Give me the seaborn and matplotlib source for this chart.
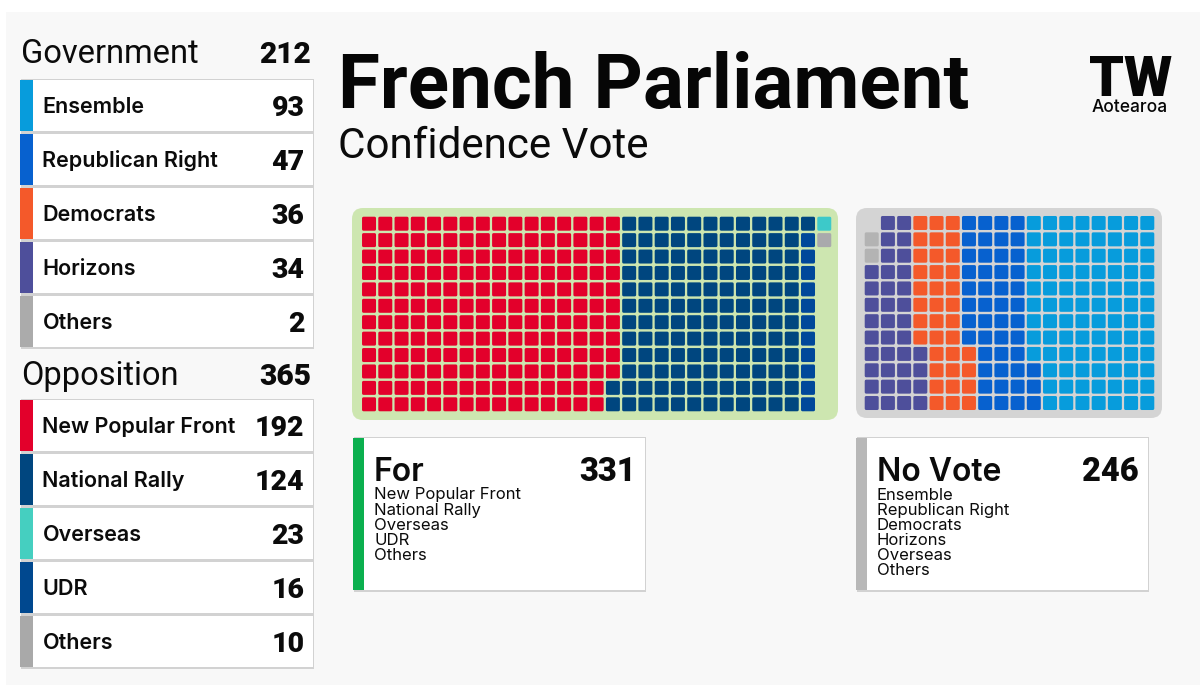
import numpy as np
import pandas as pd
import matplotlib
matplotlib.use("Agg")
import matplotlib.pyplot as plt
from matplotlib.patches import Rectangle, FancyBboxPatch
import seaborn as sns

# ---- data ----
gov_names = ["Ensemble", "Republican Right", "Democrats", "Horizons", "Others"]
gov_values = [93, 47, 36, 34, 2]
gov_total = 212
opp_names = ["New Popular Front", "National Rally", "Overseas", "UDR", "Others"]
opp_values = [192, 124, 23, 16, 10]
opp_total = 365
for_total = 331
no_total = 246
for_list = ["New Popular Front", "National Rally", "Overseas", "UDR", "Others"]
no_list = ["Ensemble", "Republican Right", "Democrats", "Horizons", "Overseas", "Others"]

# seats per row of each waffle, left to right
for_red  = [16, 16, 16, 16, 16, 16, 16, 16, 16, 16, 15, 15]
for_navy = [12, 11, 11, 11, 11, 11, 11, 11, 11, 11, 12, 12]
for_udr  = [0, 1, 1, 1, 1, 1, 1, 1, 1, 1, 1, 1]
for_teal = [1, 0, 0, 0, 0, 0, 0, 0, 0, 0, 0, 0]
for_grey = [0, 1, 0, 0, 0, 0, 0, 0, 0, 0, 0, 0]

no_blank = [1, 0, 0, 0, 0, 0, 0, 0, 0, 0, 0, 0]
no_grey  = [0, 1, 1, 0, 0, 0, 0, 0, 0, 0, 0, 0]
no_hor   = [2, 2, 2, 3, 3, 3, 3, 3, 4, 4, 4, 4]
no_dem   = [3, 3, 3, 3, 3, 3, 3, 3, 3, 3, 3, 3]
no_rr    = [4, 4, 4, 4, 4, 4, 4, 4, 3, 4, 4, 4]
no_ens   = [8, 8, 8, 8, 8, 8, 8, 8, 8, 7, 7, 7]

# ---- style ----
sns.set_theme(style="white")
plt.rcParams["font.family"] = ["Inter", "DejaVu Sans"]
HEAD = ["Roboto", "DejaVu Sans"]
W, H = 1200, 686
C = dict(ens="#079cdc", rr="#0761cf", dem="#f4592a", hor="#4e4f9b", grey="#a9a9ac",
         red="#e3002b", navy="#00467f", udr="#00489a", teal="#3dc9c9", grey2="#b3b3b3")
gov_cols = [C["ens"], C["rr"], C["dem"], C["hor"], "#ababab"]
opp_cols = [C["red"], "#00467f", "#45cfc0", "#00488f", "#a9a9a9"]

fig = plt.figure(figsize=(W / 100, H / 100), dpi=100, facecolor="white")
bg = fig.add_axes([0, 0, 1, 1])
bg.set_xlim(0, W); bg.set_ylim(H, 0); bg.axis("off")
bg.add_patch(Rectangle((6, 12), W - 6, H - 13, fc="#f8f8f8", ec="none"))


def card(x0, y0, x1, y1, band, bw):
    bg.add_patch(Rectangle((x0 + 1, y0 - 1), x1 - x0, y1 - y0 + 3, fc="#c9c9c9", ec="none", alpha=.8))
    bg.add_patch(Rectangle((x0, y0), x1 - x0, y1 - y0, fc="white", ec="none"))
    bg.add_patch(Rectangle((x0, y0), bw, y1 - y0, fc=band, ec="none"))


def panel(x0, y0, x1, y1, col):
    r = 11
    bg.add_patch(FancyBboxPatch((x0 + r, y0 + r), x1 - x0 - 2 * r, y1 - y0 - 2 * r,
                                boxstyle=f"round,pad={r},rounding_size={r}", fc=col, ec="none"))


def side(title, total, tbase, names, vals, cols, top):
    bg.text(21, tbase, title, family=HEAD, fontsize=23.5, fontweight="regular", color="#0b0b0b", va="baseline")
    bg.text(311, tbase, str(total), family=HEAD, fontsize=21.5, fontweight="black", color="#0b0b0b", va="baseline", ha="right")
    for i, (n, v, c) in enumerate(zip(names, vals, cols)):
        y0 = top + i * 54
        card(20, y0, 313, y0 + 51.5, c, 13)
        bg.text(42.5, y0 + 33.5, n, fontsize=15.5, fontweight="semibold", color="#0b0b0b", va="baseline")
        bg.text(304.5, y0 + 36, str(v), family=HEAD, fontsize=20.5, fontweight="black", color="#0b0b0b", va="baseline", ha="right")


side("Government", gov_total, 63, gov_names, gov_values, gov_cols, 79.5)
side("Opposition", opp_total, 385, opp_names, opp_values, opp_cols, 399.5)

bg.text(338.5, 108, "French Parliament", family=HEAD, fontsize=55, fontweight="bold", color="#060606", va="baseline")
bg.text(338.5, 158, "Confidence Vote", family=HEAD, fontsize=30.3, fontweight="regular", color="#0b0b0b", va="baseline")
bg.text(1130.5, 96, "TW", family=HEAD, fontsize=40, fontweight="black", color="#060606", va="baseline", ha="center")
bg.text(1130, 112, "Aotearoa", fontsize=12.5, fontweight="medium", color="#060606", va="baseline", ha="center")

panel(352, 208, 838, 420, "#cde6b0")
panel(856, 208, 1162, 418, "#d4d4d4")


def tally(title, total, x0, band, items):
    card(x0, 438, x0 + 292, 590, band, 11)
    bg.text(x0 + 21, 481, title, fontsize=23, fontweight="semibold", color="#0b0b0b", va="baseline")
    bg.text(x0 + 283, 481, str(total), family=HEAD, fontsize=23.5, fontweight="black", color="#0b0b0b", va="baseline", ha="right")
    for i, it in enumerate(items):
        bg.text(x0 + 21, 499.5 + i * 15.1, it, fontsize=12, color="#0b0b0b", va="baseline")


tally("For", for_total, 353, "#0bb04f", for_list)
tally("No Vote", no_total, 856, "#b8b8b8", no_list)


def waffle(runs, ncol, nrow, box):
    """runs: list of (key, per-row counts); key None leaves the seat empty."""
    rows = []
    for r in range(nrow):
        seq = []
        for key, counts in runs:
            seq += [key] * counts[r]
        for c, k in enumerate(seq):
            if k is not None:
                rows.append(dict(col=c, row=r, party=k))
    df = pd.DataFrame(rows)
    x0, y0, x1, y1 = box
    ax = fig.add_axes([x0 / W, 1 - y1 / H, (x1 - x0) / W, (y1 - y0) / H])
    ax.patch.set_alpha(0)
    pal = {k: C[k] for k in df["party"].unique()}
    sns.scatterplot(data=df, x="col", y="row", hue="party", palette=pal, marker="s",
                    s=66, linewidth=1.95, edgecolor="face", legend=False, ax=ax, clip_on=False)
    ax.collections[0].set_joinstyle("round")
    ax.collections[0].set_snap(False)
    ax.set_xlim(-.5, ncol - .5)
    ax.set_ylim(nrow - .5, -.5)
    ax.axis("off")


waffle([("red", for_red), ("navy", for_navy), ("udr", for_udr), ("teal", for_teal), ("grey", for_grey)],
       29, 12, (360.9, 215.5, 832.4, 412.5))
waffle([(None, no_blank), ("grey2", no_grey), ("hor", no_hor), ("dem", no_dem), ("rr", no_rr), ("ens", no_ens)],
       18, 12, (863.6, 214.8, 1155.4, 411.2))

fig.savefig("out.png", dpi=100)
